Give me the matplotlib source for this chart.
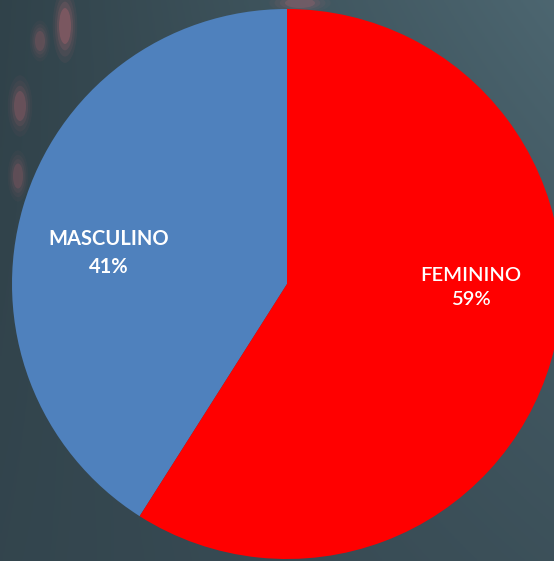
import matplotlib.pyplot as plt
import numpy as np
from matplotlib.patches import Ellipse

# Data
labels = ["MASCULINO", "FEMININO"]
shares = [41, 59]
colors = ["#4f81bd", "#ff0000"]

W, H = 554, 561
fig = plt.figure(figsize=(W / 100, H / 100), dpi=100)

# Background: dark slate gradient
bg = fig.add_axes([0, 0, 1, 1])
bg.axis("off")
yy, xx = np.mgrid[0:1:200j, 0:1:200j]
left = np.array([0.19, 0.26, 0.29])
right = np.array([0.30, 0.40, 0.44])
bottom_dark = np.array([0.22, 0.29, 0.33])
t = xx[..., None] * (1 - 0.5 * yy[..., None])
img = left * (1 - t) + right * t
img = img * (1 - 0.35 * yy[..., None]) + bottom_dark * 0.35 * yy[..., None]
bg.imshow(np.clip(img, 0, 1), extent=(0, W, 0, H), aspect="auto", origin="upper")
# faint reddish smudges top-left, built from stacked soft ellipses
for (x, y, w, h, a) in [(65, 535, 12, 36, 0.25), (20, 455, 12, 30, 0.18),
                        (18, 385, 10, 25, 0.15), (40, 520, 10, 20, 0.15),
                        (300, 558, 30, 10, 0.18)]:
    for k in range(4):
        s = 1 + 0.35 * k
        bg.add_patch(Ellipse((x, y), w * s, h * s, color="#d9707a",
                             alpha=a / (k + 1), lw=0))
bg.set_xlim(0, W)
bg.set_ylim(0, H)

ax = fig.add_axes([0, 0, 1, 1])
ax.patch.set_alpha(0)
ax.pie(shares, colors=colors, startangle=90, counterclock=True,
       center=(287, H - 284), radius=275,
       wedgeprops=dict(linewidth=0))
ax.set_xlim(0, W)
ax.set_ylim(0, H)
ax.set_aspect("auto")
ax.axis("off")

ax.text(109, H - 253, f"{labels[0]}\n{shares[0]}%", ha="center", va="center",
        color="white", fontsize=14.5, fontweight="bold", family="Lato",
        linespacing=1.5)
ax.text(471, H - 287, f"{labels[1]}\n{shares[1]}%", ha="center", va="center",
        color="white", fontsize=14.5, fontweight="semibold", family="Lato",
        linespacing=1.5)

fig.savefig("out.png", dpi=100)
